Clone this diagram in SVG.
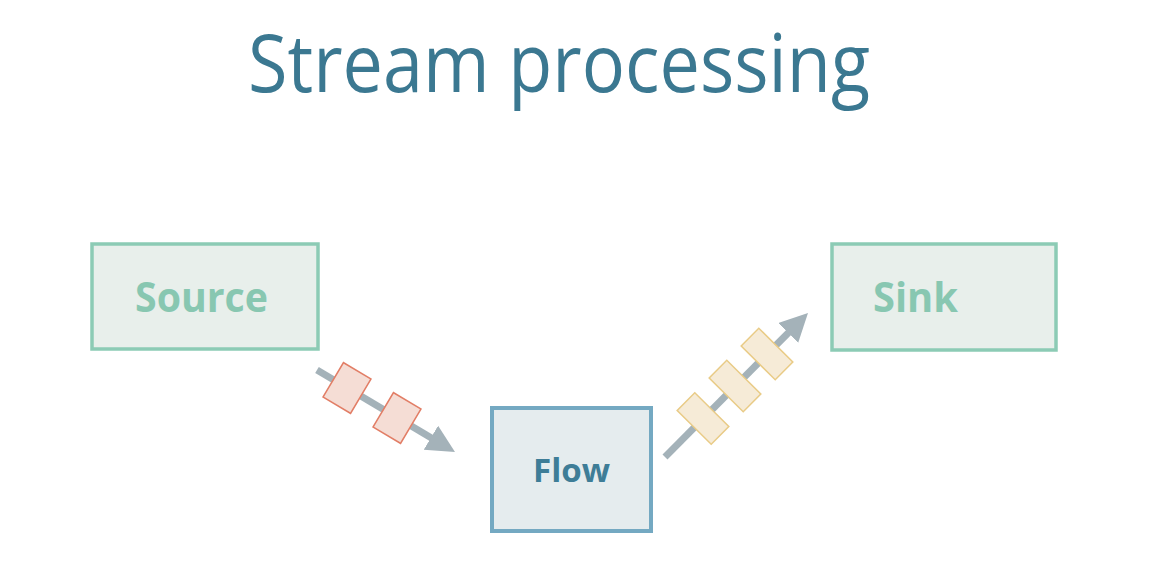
<svg xmlns="http://www.w3.org/2000/svg" width="1154" height="580" viewBox="0 0 1154 580">
<style>
.title{font-family:"Open Sans","Noto Sans",sans-serif;font-size:80px;fill:#3b7891}
.green rect{fill:#e8efeb;stroke:#8ccbb5;stroke-width:3.5}
.green text{font-family:"Open Sans","Noto Sans",sans-serif;font-weight:bold;font-size:41px;fill:#88c7b1}
.blue rect{fill:#e5ecee;stroke:#74a9c2;stroke-width:4}
.blue text{font-family:"Open Sans","Noto Sans",sans-serif;font-weight:bold;font-size:32px;fill:#3e7d97}
.conn{stroke:#a4b2b9;stroke-width:7;fill:none;marker-end:url(#ah)}
.red{fill:#f5ddd5;stroke:#e27e66;stroke-width:1.5}
.yel{fill:#f6ebd7;stroke:#e9cb86;stroke-width:1.5}
</style>
<defs>
<marker id="ah" markerUnits="userSpaceOnUse" markerWidth="30" markerHeight="30" refX="8" refY="14" orient="auto">
<path d="M0,0 L28,14 L0,28 z" fill="#a4b2b9"/>
</marker>
</defs>
<rect width="1154" height="580" fill="#ffffff"/>
<text class="title" x="559" y="92" text-anchor="middle" textLength="622" lengthAdjust="spacingAndGlyphs">Stream processing</text>
<g id="connectors">
<line class="conn" x1="317" y1="370" x2="437.8" y2="441.8"/>
<line class="conn" x1="665" y1="457" x2="793.9" y2="327.2"/>
<g id="red-items">
<rect class="red" x="-16" y="-20" width="32" height="40" transform="translate(347,388) rotate(30.7)"/>
<rect class="red" x="-16" y="-20" width="32" height="40" transform="translate(397,418) rotate(30.7)"/>
</g>
<g id="yellow-items">
<rect class="yel" x="-12.5" y="-24" width="25" height="48" transform="translate(703,418.5) rotate(-45.2)"/>
<rect class="yel" x="-12.5" y="-24" width="25" height="48" transform="translate(735,386) rotate(-45.2)"/>
<rect class="yel" x="-12.5" y="-24" width="25" height="48" transform="translate(767,354) rotate(-45.2)"/>
</g>
</g>
<g id="source" class="green">
<rect x="92" y="244" width="226" height="105"/>
<text x="135" y="312" textLength="133" lengthAdjust="spacingAndGlyphs">Source</text>
</g>
<g id="flow" class="blue">
<rect x="492" y="408" width="159" height="123"/>
<text x="533" y="482" textLength="77" lengthAdjust="spacingAndGlyphs">Flow</text>
</g>
<g id="sink" class="green">
<rect x="832" y="244" width="224" height="106"/>
<text x="873" y="312" textLength="85" lengthAdjust="spacingAndGlyphs">Sink</text>
</g>
</svg>
